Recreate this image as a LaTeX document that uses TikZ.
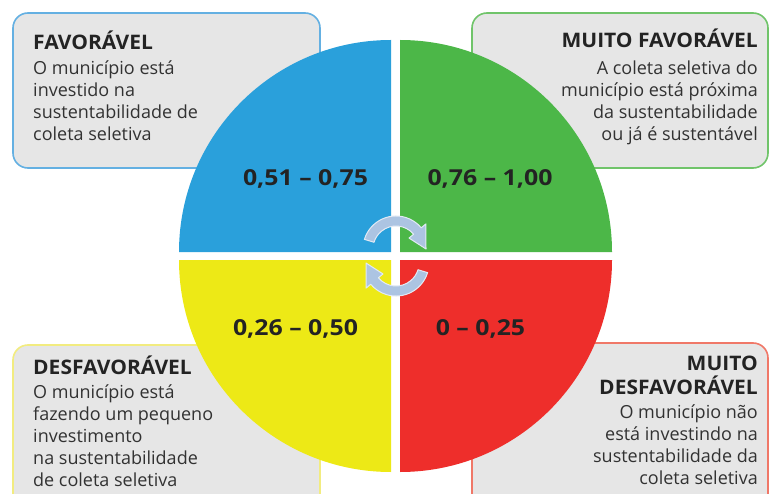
\documentclass[tikz,border=0pt]{standalone}
\usepackage{fontspec}
\setmainfont{Open Sans}
\newfontfamily\numfont[FakeStretch=1.13]{Open Sans}
\newfontfamily\ttlfont[FakeStretch=1.05]{Open Sans}
\definecolor{qblue}{RGB}{42,160,219}
\definecolor{qgreen}{RGB}{76,183,72}
\definecolor{qyellow}{RGB}{237,233,22}
\definecolor{qred}{RGB}{238,46,43}
\definecolor{boxgray}{RGB}{230,230,230}
\definecolor{bblue}{RGB}{100,176,226}
\definecolor{bgreen}{RGB}{112,196,106}
\definecolor{byellow}{RGB}{242,236,128}
\definecolor{bred}{RGB}{240,120,104}
\definecolor{txtdark}{RGB}{35,35,35}
\definecolor{txtbody}{RGB}{50,50,50}
\definecolor{arrowfill}{RGB}{172,196,226}
\definecolor{arrowedge}{RGB}{226,234,244}
\begin{document}
\begin{tikzpicture}[x=1pt,y=-1pt,
  box/.style={fill=boxgray, line width=1.6pt, rounded corners=15pt},
  ttl/.style={font=\ttlfont\fontsize{20}{22}\selectfont\bfseries, text=txtdark, inner sep=0pt},
  bdy/.style={font=\fontsize{18}{22}\selectfont, text=txtbody, inner sep=0pt},
  num/.style={font=\numfont\fontsize{22}{24}\selectfont\bfseries, text=txtdark, inner sep=0pt, anchor=base},
  cyc/.style={fill=arrowfill, draw=arrowedge, line width=1pt, line join=round}]
\clip (0,0) rectangle (770,494);
\fill[white] (0,0) rectangle (770,494);
% boxes
\path[box, draw=bblue] (13,13) rectangle (320,168);
\path[box, draw=bgreen] (472,13) rectangle (768,168);
\path[box, draw=byellow] (13,345) rectangle (320,520);
\path[box, draw=bred] (472,343) rectangle (768,520);
% quadrants
\fill[qblue] (391,252) -- ++(-212,0) arc[start angle=180, end angle=270, radius=212] -- cycle;
\fill[qgreen] (400,252) -- ++(0,-212) arc[start angle=270, end angle=360, radius=212] -- cycle;
\fill[qred] (400,260) -- ++(212,0) arc[start angle=0, end angle=90, radius=212] -- cycle;
\fill[qyellow] (391,260) -- ++(0,212) arc[start angle=90, end angle=180, radius=212] -- cycle;
% numbers
\node[num] (n1) at (305.5,186) {0,51 – 0,75};
\node[num] (n2) at (490,186) {0,76 – 1,00};
\node[num] (n3) at (295.5,335) {0,26 – 0,50};
\node[num] (n4) at (480.5,335) {0 – 0,25};
% cycle arrows
\begin{scope}[shift={(396,256)}, yscale=-1]
  \begin{scope}[shift={(0,7)}]
    \path[cyc] (163:33) arc[start angle=163, end angle=40, radius=33] -- (40:39) -- (0:30) -- (40:17) -- (40:23) arc[start angle=40, end angle=163, radius=23] -- cycle;
  \end{scope}
  \begin{scope}[rotate=180, shift={(0,7)}]
    \path[cyc] (163:33) arc[start angle=163, end angle=40, radius=33] -- (40:39) -- (0:30) -- (40:17) -- (40:23) arc[start angle=40, end angle=163, radius=23] -- cycle;
  \end{scope}
\end{scope}
% texts top-left
\node[ttl, anchor=base west] (a0) at (33,50) {FAVORÁVEL};
\foreach \t [count=\i] in {O município está, investido na, sustentabilidade de, coleta seletiva}
  \node[bdy, anchor=base west] (a\i) at (33,{53+22*\i}) {\t};
% top-right
\node[ttl, anchor=base east] (b0) at (758,48) {MUITO FAVORÁVEL};
\foreach \t [count=\i] in {A coleta seletiva do, município está próxima, da sustentabilidade, ou já é sustentável}
  \node[bdy, anchor=base east] (b\i) at (758,{53+22*\i}) {\t};
% bottom-left
\node[ttl, anchor=base west] (c0) at (33,374) {DESFAVORÁVEL};
\foreach \t [count=\i] in {O município está, fazendo um pequeno, investimento, na sustentabilidade, de coleta seletiva}
  \node[bdy, anchor=base west] (c\i) at (33,{376+22*\i}) {\t};
% bottom-right
\node[ttl, anchor=base east] (d0) at (758,370) {MUITO};
\node[ttl, anchor=base east] (d1) at (758,394) {DESFAVORÁVEL};
\foreach \t [count=\i] in {O município não, está investindo na, sustentabilidade da, coleta seletiva}
  \node[bdy, anchor=base east] (d\the\numexpr\i+1\relax) at (758,{396+22*\i}) {\t};
\end{tikzpicture}
\end{document}
